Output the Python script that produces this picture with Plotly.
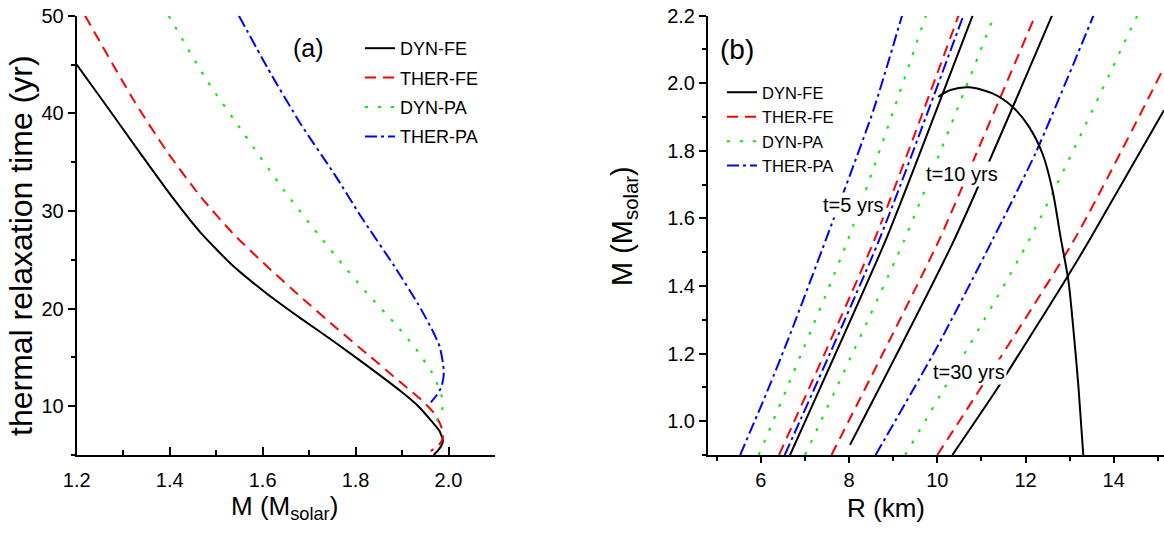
import plotly.graph_objects as go

W, H = 1164, 536
FONT = "Liberation Sans, Arial, sans-serif"

# ---------------- panel (a): relaxation time vs mass ----------------
a_dyn_fe_m = [1.200, 1.265, 1.337, 1.409, 1.466, 1.538, 1.610, 1.682, 1.754, 1.826, 1.898, 1.935, 1.963, 1.980, 1.988, 1.985, 1.978, 1.968]
a_dyn_fe_t = [45.0, 40.7, 35.9, 31.2, 27.8, 24.3, 21.5, 19.0, 16.6, 14.1, 11.5, 10.0, 8.5, 7.5, 6.5, 6.0, 5.5, 5.0]

a_ther_fe_m = [1.218, 1.322, 1.394, 1.466, 1.538, 1.610, 1.682, 1.754, 1.826, 1.898, 1.945, 1.972, 1.985, 1.988, 1.982, 1.962]
a_ther_fe_t = [50.0, 41.4, 36.1, 31.5, 27.6, 24.3, 21.2, 18.2, 15.3, 12.4, 10.5, 9.1, 7.8, 6.8, 6.2, 5.4]

a_dyn_pa_m = [1.398, 1.481, 1.560, 1.646, 1.718, 1.776, 1.826, 1.884, 1.934, 1.965, 1.980, 1.988, 1.985, 1.975, 1.965]
a_dyn_pa_t = [50.0, 43.3, 37.9, 32.1, 27.7, 24.3, 21.5, 18.5, 15.6, 13.4, 11.8, 10.5, 9.3, 8.5, 8.0]

a_ther_pa_m = [1.549, 1.610, 1.682, 1.754, 1.812, 1.884, 1.934, 1.965, 1.981, 1.988, 1.990, 1.985, 1.974, 1.962]
a_ther_pa_t = [50.0, 44.7, 38.9, 33.8, 29.4, 24.3, 20.5, 17.8, 16.1, 14.4, 13.4, 12.0, 11.1, 10.4]

# ---------------- panel (b): mass-radius and isochrones ----------------
mr_r = [10.02, 10.30, 10.72, 11.25, 11.71, 12.08, 12.39, 12.61, 12.80, 12.97, 13.08, 13.20, 13.31]
mr_m = [1.960, 1.980, 1.988, 1.970, 1.930, 1.871, 1.790, 1.684, 1.541, 1.418, 1.280, 1.102, 0.900]

# THER-PA (blue) isochrones
b_ther_pa_5_r = [5.53, 6.18, 6.67, 7.47, 8.55, 9.20]
b_ther_pa_5_m = [0.90, 1.10, 1.26, 1.536, 1.92, 2.20]
b_ther_pa_10_r = [6.54, 8.68, 10.59]
b_ther_pa_10_m = [0.90, 1.536, 2.20]
b_ther_pa_30_r = [8.60, 9.98, 11.25, 12.24, 13.54]
b_ther_pa_30_m = [0.90, 1.216, 1.536, 1.797, 2.20]
# DYN-PA (green)
b_dyn_pa_5_r = [5.95, 7.97, 9.74]
b_dyn_pa_5_m = [0.90, 1.536, 2.20]
b_dyn_pa_10_r = [7.00, 9.25, 11.29]
b_dyn_pa_10_m = [0.90, 1.536, 2.20]
b_dyn_pa_30_r = [9.27, 12.08, 14.53]
b_dyn_pa_30_m = [0.90, 1.536, 2.20]
# THER-FE (red)
b_ther_fe_5_r = [6.41, 8.57, 10.48]
b_ther_fe_5_m = [0.90, 1.536, 2.20]
b_ther_fe_10_r = [7.60, 10.04, 10.95, 12.22]
b_ther_fe_10_m = [0.90, 1.536, 1.812, 2.20]
b_ther_fe_30_r = [10.00, 13.10, 15.11]
b_ther_fe_30_m = [0.90, 1.536, 2.039]
# DYN-FE (black)
b_dyn_fe_5_r = [6.66, 8.83, 9.59, 10.80]
b_dyn_fe_5_m = [0.90, 1.536, 1.788, 2.20]
b_dyn_fe_10_r = [8.02, 10.38, 12.60]
b_dyn_fe_10_m = [0.93, 1.536, 2.20]
b_dyn_fe_30_r = [10.34, 11.36, 12.10, 12.86, 13.45, 15.14]
b_dyn_fe_30_m = [0.90, 1.097, 1.250, 1.408, 1.536, 1.920]

names = ["DYN-FE", "THER-FE", "DYN-PA", "THER-PA"]
styles = {
    "DYN-FE": dict(color="black", dash="solid"),
    "THER-FE": dict(color="#ff0000", dash="11px,7px"),
    "DYN-PA": dict(color="#00ee00", dash="3px,10px"),
    "THER-PA": dict(color="#0000ff", dash="12px,4px,3px,4px"),
}

fig = go.Figure()

panel_a = {
    "DYN-FE": (a_dyn_fe_m, a_dyn_fe_t),
    "THER-FE": (a_ther_fe_m, a_ther_fe_t),
    "DYN-PA": (a_dyn_pa_m, a_dyn_pa_t),
    "THER-PA": (a_ther_pa_m, a_ther_pa_t),
}
for n in names:
    xs, ys = panel_a[n]
    fig.add_trace(go.Scatter(
        x=xs, y=ys, mode="lines", name=n, xaxis="x", yaxis="y",
        line=dict(width=2, shape="spline", smoothing=0.6, **styles[n]),
        legend="legend", legendgroup="a-" + n, showlegend=True))

panel_b = {
    "DYN-FE": [(b_dyn_fe_5_r, b_dyn_fe_5_m), (b_dyn_fe_10_r, b_dyn_fe_10_m), (b_dyn_fe_30_r, b_dyn_fe_30_m)],
    "THER-FE": [(b_ther_fe_5_r, b_ther_fe_5_m), (b_ther_fe_10_r, b_ther_fe_10_m), (b_ther_fe_30_r, b_ther_fe_30_m)],
    "DYN-PA": [(b_dyn_pa_5_r, b_dyn_pa_5_m), (b_dyn_pa_10_r, b_dyn_pa_10_m), (b_dyn_pa_30_r, b_dyn_pa_30_m)],
    "THER-PA": [(b_ther_pa_5_r, b_ther_pa_5_m), (b_ther_pa_10_r, b_ther_pa_10_m), (b_ther_pa_30_r, b_ther_pa_30_m)],
}
rank = {"DYN-FE": 1, "THER-FE": 2, "DYN-PA": 3, "THER-PA": 4}
for n in reversed(names):
    for i, (xs, ys) in enumerate(panel_b[n]):
        fig.add_trace(go.Scatter(
            x=xs, y=ys, mode="lines", name=n, xaxis="x2", yaxis="y2",
            line=dict(width=2, shape="spline", smoothing=0.6, **styles[n]),
            legend="legend2", legendgroup="b-" + n, showlegend=(i == 0),
            legendrank=rank[n]))

fig.add_trace(go.Scatter(x=mr_r, y=mr_m, mode="lines", xaxis="x2", yaxis="y2",
                         line=dict(color="black", width=2, shape="spline", smoothing=0.8),
                         showlegend=False, hoverinfo="skip"))


def px_x(p):
    return p / W


def px_y(p):
    return 1 - p / H


dom_y = [px_y(455), px_y(15.7)]
dom_a = [px_x(76.7), px_x(495)]
dom_b = [px_x(708), 1.0]

tickfont = dict(family=FONT, size=20, color="black")
common = dict(showgrid=False, zeroline=False, showline=True, linecolor="black", automargin=False,
              linewidth=2, tickcolor="black", tickwidth=1.5, tickfont=tickfont)


def minor(kind, ln, dt):
    return dict(ticks=kind, ticklen=ln, dtick=dt, tick0=0, tickcolor="black", tickwidth=1.5)


fig.update_layout(
    template="none",
    width=W, height=H, margin=dict(l=0, r=0, t=0, b=0, pad=0),
    paper_bgcolor="white", plot_bgcolor="white",
    font=dict(family=FONT, color="black"),
    xaxis=dict(domain=dom_a, range=[1.2, 2.1], anchor="y", ticks="inside", ticklen=8,
               tick0=0, dtick=0.2, tickformat=".1f", ticklabelstandoff=6,
               minor=minor("inside", 5, 0.1), **common),
    xaxis3=dict(overlaying="x", side="top", anchor="y", range=[1.2, 2.1], ticks="inside", ticklen=8,
                tick0=0, dtick=0.2, showticklabels=False,
                minor=minor("inside", 5, 0.1), **common),
    yaxis=dict(domain=dom_y, range=[5, 50], anchor="x", ticks="outside", ticklen=7,
               tick0=0, dtick=10, minor=minor("outside", 4, 5), **common),
    yaxis3=dict(overlaying="y", side="right", anchor="x", range=[5, 50], ticks="inside", ticklen=7,
                tick0=0, dtick=10, showticklabels=False,
                minor=minor("inside", 4, 5), **common),
    xaxis2=dict(domain=dom_b, range=[4.8, 15.14], anchor="y2", ticks="outside", ticklen=6,
                tick0=0, dtick=2, minor=minor("outside", 4, 1), **common),
    xaxis4=dict(overlaying="x2", side="top", anchor="y2", range=[4.8, 15.14], ticks="inside", ticklen=6,
                tick0=0, dtick=2, showticklabels=False,
                minor=minor("inside", 4, 1), **common),
    yaxis2=dict(domain=dom_y, range=[0.9, 2.2], anchor="x2", ticks="outside", ticklen=7,
                tick0=0, dtick=0.2, tickformat=".1f",
                minor=minor("outside", 4, 0.1), **common),
    yaxis4=dict(overlaying="y2", side="right", anchor="x2", range=[0.9, 2.2], ticks="inside", ticklen=6,
                tick0=0, dtick=0.2, showticklabels=False,
                minor=minor("inside", 4, 0.1), **common),
    legend=dict(x=px_x(360), y=px_y(30), xanchor="left", yanchor="top",
                bgcolor="rgba(0,0,0,0)", borderwidth=0, font=dict(family=FONT, size=18, color="black"),
                traceorder="grouped", tracegroupgap=3, itemclick=False),
    legend2=dict(x=px_x(722), y=px_y(75), xanchor="left", yanchor="top",
                 bgcolor="rgba(0,0,0,0)", borderwidth=0, font=dict(family=FONT, size=16.5, color="black"),
                 traceorder="grouped", tracegroupgap=0, itemclick=False),
)

ann = []


def label(text, x, y, size, angle=0, xref="paper", yref="paper", bg=None):
    d = dict(text=text, x=x, y=y, xref=xref, yref=yref, showarrow=False,
             xanchor="center", yanchor="middle", textangle=angle,
             font=dict(family=FONT, size=size, color="black"))
    if bg:
        d.update(bgcolor=bg, borderpad=1)
    ann.append(d)


label("thermal relaxation time (yr)", px_x(21), px_y(246), 32, angle=-90)
label("M (M<sub>solar</sub>)", px_x(284), px_y(507), 26)
label("R (km)", px_x(886), px_y(508), 26)
label("M (M<sub>solar</sub>)", px_x(624), px_y(226), 29, angle=-90)
label("(a)", px_x(308), px_y(48), 25)
label("(b)", px_x(737), px_y(50), 28)
label("t=5 yrs", 8.10, 1.64, 20, xref="x2", yref="y2", bg="white")
label("t=10 yrs", 10.56, 1.731, 20, xref="x2", yref="y2", bg="white")
label("t=30 yrs", 10.71, 1.146, 20, xref="x2", yref="y2", bg="white")
fig.update_layout(annotations=ann)

fig.write_html("out.html", config={"displayModeBar": False},
               post_script="document.body.style.margin='0px';"
                           "document.documentElement.style.overflow='hidden';")
